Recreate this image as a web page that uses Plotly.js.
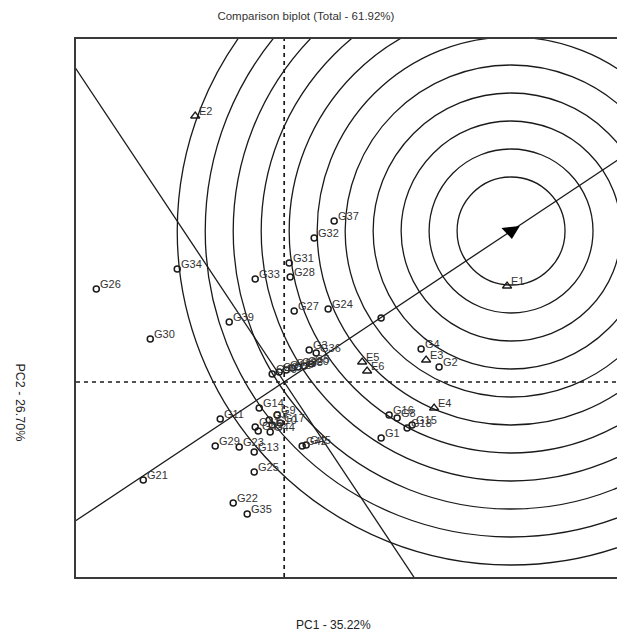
<!DOCTYPE html>
<html>
<head>
<meta charset="utf-8">
<script src="https://cdn.plot.ly/plotly-3.0.1.min.js"></script>
<style>
  html, body { margin: 0; padding: 0; background: #fff; overflow: hidden; }
  #chart { width: 640px; height: 633px; }
</style>
</head>
<body>
<div id="chart"></div>
<script>
// GGE comparison biplot: genotype and environment scores on PC1 / PC2

// Genotype scores
const genoNames = ['G26','G34','G30','G39','G33','G31','G28','G32','G37','G27','G24','G3','G36',
  'G40','G6','G12','G19','G38','G20','G5','G4','G2','G16','G8','G18','G15','G1',
  'G14','G11','G9','G7','G10','G41','G43','G17','G44','G29','G23','G13','G25','G22','G35',
  'G42','G45','G21'];
const genoPC1 = [-1.88,-1.07,-1.34,-0.55,-0.29,0.05,0.06,0.30,0.50,0.10,0.44,0.25,0.32,
  -0.12,-0.05,0.02,0.08,0.14,0.20,0.27,1.37,1.55,1.05,1.13,1.23,1.28,0.97,
  -0.25,-0.64,-0.07,-0.15,-0.12,-0.29,-0.26,-0.04,-0.14,-0.69,-0.45,-0.30,-0.30,-0.51,-0.37,
  0.18,0.22,-1.41];
const genoPC2 = [0.93,1.13,0.43,0.60,1.03,1.19,1.05,1.44,1.61,0.71,0.73,0.32,0.29,
  0.08,0.10,0.12,0.14,0.15,0.16,0.18,0.33,0.15,-0.33,-0.36,-0.46,-0.43,-0.56,
  -0.26,-0.37,-0.33,-0.38,-0.43,-0.45,-0.49,-0.41,-0.50,-0.64,-0.65,-0.70,-0.90,-1.21,-1.32,
  -0.64,-0.63,-0.98];

// Environment scores
const envNames = ['E1','E2','E3','E4','E5','E6'];
const envPC1 = [2.23,-0.89,1.42,1.50,0.78,0.83];
const envPC2 = [0.96,2.66,0.22,-0.26,0.20,0.11];

// Ideal genotype, average environment and the concentric distance rings
const idealPC = [2.27, 1.51];
const avgEnvPC = [0.97, 0.64];
const ringRadii = [0.54,0.82,1.10,1.38,1.66,1.94,2.22,2.50,2.78,3.06,3.34];

const ink = '#1a1a1a';
const labelFont = {family: 'Liberation Sans, Arial, sans-serif', size: 11, color: '#333'};

const shapes = [];
// distance rings around the ideal genotype
ringRadii.forEach(r => shapes.push({
  type: 'circle', xref: 'x', yref: 'y', layer: 'below',
  x0: idealPC[0] - r, x1: idealPC[0] + r, y0: idealPC[1] - r, y1: idealPC[1] + r,
  line: {color: ink, width: 1.3}
}));
// average-environment axis through the origin and its perpendicular
const ext = 6;
shapes.push({type: 'line', xref: 'x', yref: 'y', layer: 'below',
  x0: -ext * idealPC[0], y0: -ext * idealPC[1], x1: ext * idealPC[0], y1: ext * idealPC[1],
  line: {color: ink, width: 1.3}});
shapes.push({type: 'line', xref: 'x', yref: 'y', layer: 'below',
  x0: -ext * idealPC[1], y0: ext * idealPC[0], x1: ext * idealPC[1], y1: -ext * idealPC[0],
  line: {color: ink, width: 1.3}});
// dashed PC axes
shapes.push({type: 'line', xref: 'x', yref: 'paper', layer: 'below',
  x0: 0, x1: 0, y0: 0, y1: 1, line: {color: ink, width: 1.7, dash: '4px,4px'}});
shapes.push({type: 'line', xref: 'paper', yref: 'y', layer: 'below',
  x0: 0, x1: 1, y0: 0, y1: 0, line: {color: ink, width: 1.7, dash: '4px,4px'}});

const traces = [
  {
    type: 'scatter', mode: 'markers', x: genoPC1, y: genoPC2, hoverinfo: 'text', text: genoNames,
    marker: {symbol: 'circle-open', size: 6, color: ink, line: {width: 1.5, color: ink}}
  },
  {
    type: 'scatter', mode: 'markers', x: envPC1, y: envPC2, hoverinfo: 'text', text: envNames,
    marker: {symbol: 'triangle-up-open', size: 8, color: ink, line: {width: 1.3, color: ink}}
  },
  {
    type: 'scatter', mode: 'markers', x: [avgEnvPC[0]], y: [avgEnvPC[1]], hoverinfo: 'skip',
    marker: {symbol: 'circle-open', size: 6, color: ink, line: {width: 1.5, color: ink}}
  },
  {
    type: 'scatter', mode: 'markers', x: [idealPC[0]], y: [idealPC[1]], hoverinfo: 'skip',
    marker: {symbol: 'triangle-down', size: 16, angle: -6, color: '#000'}
  }
];

const annotations = [];
function addLabels(names, xs, ys) {
  names.forEach((n, i) => annotations.push({
    x: xs[i], y: ys[i], xref: 'x', yref: 'y', text: n, showarrow: false,
    xanchor: 'left', yanchor: 'middle', xshift: 2, yshift: 5, font: labelFont
  }));
}
addLabels(genoNames, genoPC1, genoPC2);
addLabels(envNames, envPC1, envPC2);

// axis titles
annotations.push({
  xref: 'paper', yref: 'paper', x: 0.47, y: -0.09, text: 'PC1 - 35.22%', showarrow: false,
  xanchor: 'center', yanchor: 'middle',
  font: {family: 'Liberation Sans, Arial, sans-serif', size: 12, color: '#222'}
});
annotations.push({
  xref: 'paper', yref: 'paper', x: -0.103, y: 0.325, text: 'PC2 - 26.70%', showarrow: false,
  textangle: 90, xanchor: 'center', yanchor: 'middle',
  font: {family: 'Liberation Sans, Arial, sans-serif', size: 12.5, color: '#222'}
});

const axisStyle = {
  showgrid: false, zeroline: false, showticklabels: false, ticks: '',
  showline: true, mirror: true, linecolor: '#3a3a3a', linewidth: 2, fixedrange: true
};

const layout = {
  width: 640, height: 633,
  margin: {l: 76, r: 17, t: 39, b: 56},
  paper_bgcolor: '#fff', plot_bgcolor: '#fff',
  showlegend: false,
  title: {
    text: 'Comparison biplot (Total - 61.92%)',
    x: 0.478, xanchor: 'center', y: 0.975, yanchor: 'middle',
    font: {family: 'Liberation Sans, Arial, sans-serif', size: 11.5, color: '#333'}
  },
  xaxis: Object.assign({range: [-2.083, 3.39]}, axisStyle),
  yaxis: Object.assign({range: [-1.95, 3.43]}, axisStyle),
  shapes: shapes,
  annotations: annotations
};

Plotly.newPlot('chart', traces, layout, {displayModeBar: false, staticPlot: true});
</script>
</body>
</html>
